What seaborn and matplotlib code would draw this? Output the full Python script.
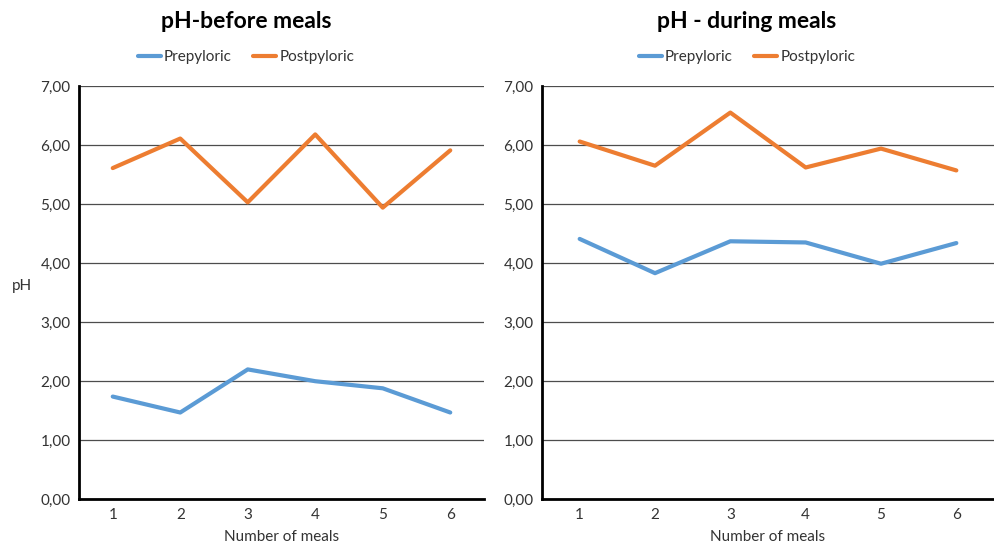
import matplotlib
matplotlib.use("Agg")
import matplotlib.pyplot as plt
from matplotlib.lines import Line2D
import seaborn as sns
import pandas as pd

# Meal numbers and measured pH values
meals = [1, 2, 3, 4, 5, 6]
before_prepyloric = [1.74, 1.47, 2.20, 2.00, 1.88, 1.47]
before_postpyloric = [5.61, 6.11, 5.03, 6.18, 4.94, 5.91]
during_prepyloric = [4.41, 3.83, 4.37, 4.35, 3.99, 4.34]
during_postpyloric = [6.06, 5.65, 6.55, 5.62, 5.94, 5.57]

series_names = ["Prepyloric", "Postpyloric"]
titles = ["pH-before meals", "pH - during meals"]
y_ticks = [0, 1, 2, 3, 4, 5, 6, 7]

sns.set_theme(style="white")
plt.rcParams["font.family"] = ["Lato", "DejaVu Sans"]

palette = {"Prepyloric": "#5B9BD5", "Postpyloric": "#ED7D31"}
text_gray = "#333333"


def long_frame(pre, post):
    return pd.DataFrame({
        "meal": meals * 2,
        "pH": pre + post,
        "site": [series_names[0]] * len(meals) + [series_names[1]] * len(meals),
    })


frames = [long_frame(before_prepyloric, before_postpyloric),
          long_frame(during_prepyloric, during_postpyloric)]

fig = plt.figure(figsize=(9.94, 5.43), dpi=100)
ax_left = fig.add_axes([79 / 994, 1 - 499.3 / 543, (484 - 79) / 994, (499.3 - 86) / 543])
ax_right = fig.add_axes([542 / 994, 1 - 499.3 / 543, (994 - 542) / 994, (499.3 - 86) / 543])
panel_centers = [246 / 994, 747 / 994]

for ax, df, title, cx in zip([ax_left, ax_right], frames, titles, panel_centers):
    sns.lineplot(data=df, x="meal", y="pH", hue="site", palette=palette,
                 linewidth=3, ax=ax, legend=False, zorder=3)
    ax.set_xlim(0.5, 6.5)
    ax.set_ylim(0, 7)
    ax.set_xticks(meals)
    ax.set_xticklabels([str(m) for m in meals])
    ax.set_yticks(y_ticks)
    ax.set_yticklabels([f"{v:.2f}".replace(".", ",") for v in y_ticks])
    ax.tick_params(axis="both", length=0, labelsize=11, labelcolor=text_gray)
    ax.tick_params(axis="y", pad=6)
    ax.tick_params(axis="x", pad=6)
    ax.grid(axis="y", color="#4d4d4d", linewidth=0.9, zorder=1)
    ax.grid(axis="x", visible=False)
    for side in ["top", "right"]:
        ax.spines[side].set_visible(False)
    for side in ["left", "bottom"]:
        ax.spines[side].set_color("black")
        ax.spines[side].set_linewidth(2)
        ax.spines[side].set_zorder(4)
    ax.set_xlabel("Number of meals", fontsize=11, color=text_gray, labelpad=6)
    ax.set_ylabel("")

    fig.text(cx, 1 - 22 / 543, title, ha="center", va="center",
             fontsize=16.5, fontweight="bold", color="black")
    handles = [Line2D([0], [0], color=palette[n], linewidth=3) for n in series_names]
    fig.legend(handles, series_names, loc="center", ncol=2,
               bbox_to_anchor=(cx, 1 - 57 / 543), frameon=False,
               fontsize=11, handlelength=1.5, handletextpad=0.2,
               columnspacing=1.4, labelcolor=text_gray)

ax_left.set_ylabel("pH", fontsize=11, color=text_gray, rotation=0,
                   labelpad=0)
ax_left.yaxis.set_label_coords(-0.14, 0.5)

fig.savefig("out.png", dpi=100, facecolor="white")
